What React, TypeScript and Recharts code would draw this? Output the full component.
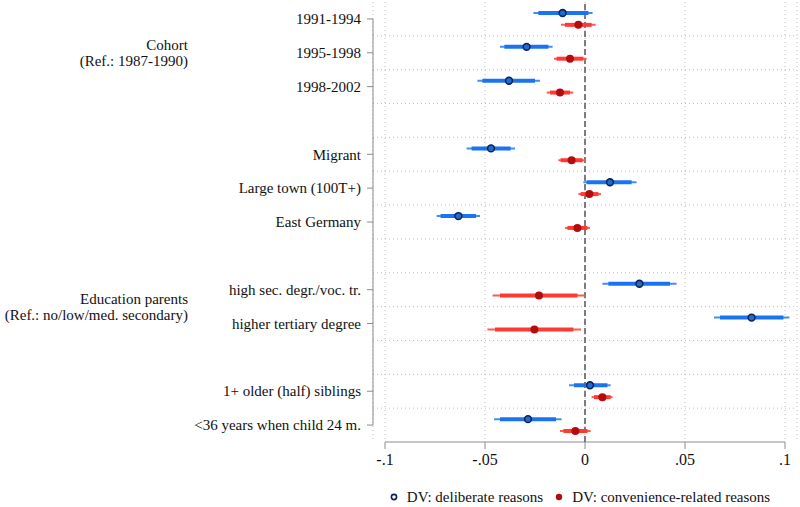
import React from "react";
import {
  ScatterChart,
  Scatter,
  XAxis,
  YAxis,
  CartesianGrid,
  ReferenceLine,
  ErrorBar,
  Legend,
} from "recharts";

// ---------- data ----------
const rowLabels = [
  "1991-1994",
  "1995-1998",
  "1998-2002",
  "Migrant",
  "Large town (100T+)",
  "East Germany",
  "high sec. degr./voc. tr.",
  "higher tertiary degree",
  "1+ older (half) siblings",
  "<36 years when child 24 m.",
];
const rowPositions = [0, 1, 2, 4, 5, 6, 8, 9, 11, 12];

const groupLabels = [
  ["Cohort", "(Ref.: 1987-1990)"],
  ["Education parents", "(Ref.: no/low/med. secondary)"],
];
const groupSpans = [
  [0, 2],
  [8, 9],
];

const xTicks = [-0.1, -0.05, 0, 0.05, 0.1];

const seriesNames = ["DV: deliberate reasons", "DV: convenience-related reasons"];

// deliberate reasons
const delibCoef = [-0.0112, -0.0292, -0.038, -0.047, 0.0125, -0.0633, 0.0272, 0.0833, 0.0025, -0.0285];
const delibLo95 = [-0.0258, -0.0425, -0.0538, -0.0592, -0.0008, -0.0742, 0.0087, 0.0645, -0.008, -0.0455];
const delibHi95 = [0.0038, -0.0162, -0.0225, -0.035, 0.0258, -0.0525, 0.0458, 0.1022, 0.0128, -0.0117];
const delibLo90 = [-0.0233, -0.0403, -0.0513, -0.0567, 0.0008, -0.0722, 0.0117, 0.0675, -0.0055, -0.0425];
const delibHi90 = [0.0017, -0.0183, -0.025, -0.0372, 0.0233, -0.0545, 0.0425, 0.0992, 0.0112, -0.0145];

// convenience-related reasons
const convCoef = [-0.0033, -0.0075, -0.0125, -0.0067, 0.0022, -0.0038, -0.023, -0.0253, 0.0087, -0.0048];
const convLo95 = [-0.012, -0.0155, -0.0192, -0.0133, -0.0033, -0.01, -0.0462, -0.0488, 0.0033, -0.0125];
const convHi95 = [0.0053, 0.0008, -0.0058, 0.0, 0.008, 0.0025, -0.0003, -0.002, 0.0138, 0.0028];
const convLo90 = [-0.01, -0.0142, -0.0175, -0.0122, -0.0022, -0.0088, -0.0425, -0.045, 0.0045, -0.0108];
const convHi90 = [0.0033, -0.0008, -0.0075, -0.0012, 0.0067, 0.0012, -0.0038, -0.0058, 0.0128, 0.0012];

// ---------- styles ----------
const FONT = '"Liberation Serif", "Times New Roman", Times, serif';
const AXIS_GRAY = "#8c8c8c";
const GRID_GRAY = "#bdbdbd";
const TICK_SIZE = 6;
const TICK_MARGIN = 6;
const GROUP_RIGHT = 188;
const SHIFT = 0.175;

const BLUE_THIN = "#3f8ff5";
const BLUE_THICK = "#1a73f0";
const BLUE_PT_FILL = "#1f6bd6";
const BLUE_PT_STROKE = "#0b2456";
const RED_THIN = "#ff5a52";
const RED_THICK = "#ff3a32";
const RED_PT = "#b40c0c";

const groupCenters = groupSpans.map(([a, b]) => (a + b) / 2);
const lastRow = rowPositions[rowPositions.length - 1];
const gridRows = Array.from({ length: lastRow }, (_, i) => i + 0.5);
const yTicks = Array.from(new Set([...rowPositions, ...groupCenters])).sort((a, b) => a - b);

function buildSeries(
  coef: number[],
  lo95: number[],
  hi95: number[],
  lo90: number[],
  hi90: number[],
  shift: number
) {
  return coef.map((c, i) => ({
    x: c,
    y: rowPositions[i] + shift,
    ci95: [c - lo95[i], hi95[i] - c],
    ci90: [c - lo90[i], hi90[i] - c],
  }));
}

const delibData = buildSeries(delibCoef, delibLo95, delibHi95, delibLo90, delibHi90, -SHIFT);
const convData = buildSeries(convCoef, convLo95, convHi95, convLo90, convHi90, SHIFT);

const fmtX = (v: number) => {
  if (v === 0) return "0";
  const s = String(Math.abs(v)).replace(/^0/, "");
  return (v < 0 ? "-" : "") + s;
};

const YTick = (props: any) => {
  const { x, y, payload } = props;
  const v = payload.value;
  const idx = rowPositions.indexOf(v);
  const gIdx = groupCenters.indexOf(v);
  return (
    <g>
      {idx >= 0 && (
        <line
          x1={x + TICK_MARGIN}
          x2={x + TICK_MARGIN + TICK_SIZE}
          y1={y}
          y2={y}
          stroke={AXIS_GRAY}
          strokeWidth={1}
        />
      )}
      {idx >= 0 && (
        <text x={x} y={y} dy="0.35em" textAnchor="end" fontFamily={FONT} fontSize={15} fill="#111">
          {rowLabels[idx]}
        </text>
      )}
      {gIdx >= 0 &&
        groupLabels[gIdx].map((line, j) => (
          <text
            key={j}
            x={GROUP_RIGHT}
            y={y + (j - (groupLabels[gIdx].length - 1) / 2) * 16}
            dy="0.35em"
            textAnchor="end"
            fontFamily={FONT}
            fontSize={15}
            fill="#111"
          >
            {line}
          </text>
        ))}
    </g>
  );
};

const BluePoint = (props: any) => (
  <circle cx={props.cx} cy={props.cy} r={3.4} fill={BLUE_PT_FILL} stroke={BLUE_PT_STROKE} strokeWidth={1.6} />
);
const RedPoint = (props: any) => <circle cx={props.cx} cy={props.cy} r={4} fill={RED_PT} />;

const LegendContent = () => (
  <div
    style={{
      display: "flex",
      justifyContent: "center",
      alignItems: "center",
      height: 30,
      paddingTop: 10,
      boxSizing: "border-box",
      fontFamily: FONT,
      fontSize: 15,
      color: "#111",
      whiteSpace: "nowrap",
    }}
  >
    <svg width={8} height={8} style={{ marginRight: 9 }}>
      <circle cx={4} cy={4} r={2.6} fill="#ffffff" stroke={BLUE_PT_STROKE} strokeWidth={1.6} />
    </svg>
    <span>{seriesNames[0]}</span>
    <svg width={8} height={8} style={{ marginLeft: 12, marginRight: 9 }}>
      <circle cx={4} cy={4} r={3.2} fill={RED_PT} />
    </svg>
    <span>{seriesNames[1]}</span>
  </div>
);

export default function App() {
  return (
    <div style={{ position: "absolute", left: 0, top: 0, width: 800, height: 507, background: "#fff" }}>
      <ScatterChart width={800} height={507} margin={{ top: 2, right: 3, bottom: 0, left: 0 }}>
        <CartesianGrid horizontal={false} vertical={true} stroke={GRID_GRAY} strokeDasharray="1 3" />
        {gridRows.map((g) => (
          <ReferenceLine key={g} y={g} stroke={GRID_GRAY} strokeDasharray="1 3" />
        ))}
        <XAxis
          type="number"
          dataKey="x"
          domain={[-0.106, 0.106]}
          allowDataOverflow
          ticks={xTicks}
          interval={0}
          tickFormatter={fmtX}
          axisLine={false}
          tickLine={{ stroke: AXIS_GRAY }}
          tickSize={7}
          tickMargin={5}
          height={35}
          tick={{ fontFamily: FONT, fontSize: 16, fill: "#111" }}
        />
        <YAxis
          type="number"
          dataKey="y"
          domain={[-0.5, lastRow + 0.5]}
          allowDataOverflow
          reversed
          ticks={yTicks}
          interval={0}
          width={373}
          axisLine={false}
          tickLine={false}
          tickSize={TICK_SIZE}
          tickMargin={TICK_MARGIN}
          tick={<YTick />}
        />
        <ReferenceLine
          segment={[
            { x: -0.106, y: rowPositions[0] },
            { x: -0.106, y: lastRow },
          ]}
          stroke={AXIS_GRAY}
          strokeWidth={1}
          ifOverflow="visible"
        />
        <ReferenceLine
          segment={[
            { x: xTicks[0], y: lastRow + 0.5 },
            { x: xTicks[xTicks.length - 1], y: lastRow + 0.5 },
          ]}
          stroke={AXIS_GRAY}
          strokeWidth={1}
          ifOverflow="visible"
        />
        <ReferenceLine x={0} stroke="#555" strokeDasharray="6 3" strokeWidth={1.5} />
        <Scatter name={seriesNames[0]} data={delibData} shape={<BluePoint />} isAnimationActive={false}>
          <ErrorBar dataKey="ci95" direction="x" width={0} stroke={BLUE_THIN} strokeWidth={2} isAnimationActive={false} />
          <ErrorBar dataKey="ci90" direction="x" width={0} stroke={BLUE_THICK} strokeWidth={4} isAnimationActive={false} />
        </Scatter>
        <Scatter name={seriesNames[1]} data={convData} shape={<RedPoint />} isAnimationActive={false}>
          <ErrorBar dataKey="ci95" direction="x" width={0} stroke={RED_THIN} strokeWidth={2} isAnimationActive={false} />
          <ErrorBar dataKey="ci90" direction="x" width={0} stroke={RED_THICK} strokeWidth={4} isAnimationActive={false} />
        </Scatter>
        <Legend
          verticalAlign="bottom"
          align="center"
          wrapperStyle={{ left: 368, width: 424, height: 30 }}
          content={<LegendContent />}
        />
      </ScatterChart>
    </div>
  );
}
